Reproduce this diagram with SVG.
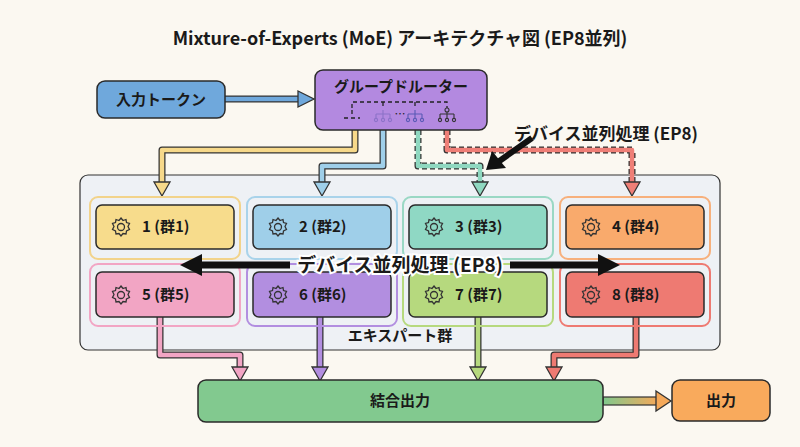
<svg xmlns="http://www.w3.org/2000/svg" width="800" height="447" viewBox="0 0 800 447">
<defs>
<linearGradient id="og" x1="0" x2="1"><stop offset="0" stop-color="#7fc98d"/><stop offset="1" stop-color="#f5a95a"/></linearGradient>
</defs>
<style>
text{font-family:"Noto Sans CJK JP","Noto Sans",sans-serif;fill:#1a1a1a}
.t{font-size:15px;font-weight:bold}
.box{stroke:#2a2a2a;stroke-width:1.5}
.o{fill:none;stroke:#333;stroke-width:7;stroke-linejoin:round}
.i{fill:none;stroke-width:4.5;stroke-linejoin:round}
.d{fill:none;stroke:#222;stroke-width:1.3;stroke-dasharray:4 3}
.gear{fill:none;stroke:#333;stroke-width:1.3}
</style>
<rect width="800" height="447" fill="#fbf8f1"/>
<text x="400" y="45" text-anchor="middle" style="font-size:18px;font-weight:bold">Mixture-of-Experts (MoE) アーキテクチャ図 (EP8並列)</text>

<g id="experts-container">
<rect x="80" y="175" width="640" height="175" rx="8" fill="#eef1f5" stroke="#333" stroke-width="1.2"/>
<text x="400" y="341" text-anchor="middle" class="t">エキスパート群</text>
</g>

<g id="connectors">
<path d="M225 99 H300" class="o"/><path d="M225 99 H300" class="i" stroke="#6fa8dc"/>
<polygon points="298,91 314,99 298,107" fill="#6fa8dc" stroke="#333" stroke-width="1.3"/>
<path d="M355 130 V150 H162 V183" class="o"/><path d="M355 130 V150 H162 V183" class="i" stroke="#f7d98a"/>
<polygon points="154,182 170,182 162,196" fill="#f7d98a" stroke="#333" stroke-width="1.3"/>
<path d="M383 130 V166 H322 V183" class="o"/><path d="M383 130 V166 H322 V183" class="i" stroke="#9fcfe9"/>
<polygon points="314,182 330,182 322,196" fill="#9fcfe9" stroke="#333" stroke-width="1.3"/>
<path d="M418 130 V166 H480 V183" class="o" stroke-dasharray="5 3"/><path d="M418 130 V166 H480 V183" class="i" stroke="#8fd8c0"/>
<polygon points="472,182 488,182 480,196" fill="#8fd8c0" stroke="#333" stroke-width="1.3"/>
<path d="M447 130 V150 H632 V183" class="o" stroke-dasharray="5 3"/><path d="M447 130 V150 H632 V183" class="i" stroke="#ef7f77"/>
<polygon points="624,182 640,182 632,196" fill="#ef7f77" stroke="#333" stroke-width="1.3"/>
<path d="M532 138 L498 162" stroke="#111" stroke-width="6"/>
<polygon points="486,170 492,151 506,168" fill="#111"/>
<path d="M160 317 V355 H240 V368" class="o"/><path d="M160 317 V355 H240 V368" class="i" stroke="#f2a5c4"/>
<polygon points="232,367 248,367 240,381" fill="#f2a5c4" stroke="#333" stroke-width="1.3"/>
<path d="M320 317 V368" class="o"/><path d="M320 317 V368" class="i" stroke="#b28ee0"/>
<polygon points="312,367 328,367 320,381" fill="#b28ee0" stroke="#333" stroke-width="1.3"/>
<path d="M478 317 V368" class="o"/><path d="M478 317 V368" class="i" stroke="#b6d97e"/>
<polygon points="470,367 486,367 478,381" fill="#b6d97e" stroke="#333" stroke-width="1.3"/>
<path d="M636 317 V355 H554 V368" class="o"/><path d="M636 317 V355 H554 V368" class="i" stroke="#ee7a72"/>
<polygon points="546,367 562,367 554,381" fill="#ee7a72" stroke="#333" stroke-width="1.3"/>
<rect x="603" y="397" width="55" height="8" fill="url(#og)" stroke="#333" stroke-width="1.2"/>
<polygon points="656,391 671,401 656,411" fill="#f5a95a" stroke="#333" stroke-width="1.3"/>
</g>

<g id="input"><rect x="97" y="81" width="128" height="37" rx="8" fill="#6fa8dc" class="box"/><text x="161" y="105" text-anchor="middle" class="t">入力トークン</text></g>

<g id="router">
<rect x="315" y="70" width="172" height="60" rx="8" fill="#b389e0" class="box"/>
<text x="401" y="92" text-anchor="middle" class="t">グループドルーター</text>
<path d="M352 108 V102 H447 V108 M383 102 V108 M415 102 V108" class="d"/>
<path d="M352 110 V115 M344 118 H360" class="d"/>
<text x="400" y="118" text-anchor="middle" style="font-size:11px">…</text>
<g fill="none" stroke-width="1.1">
<path d="M383 110 V114 M376 114 H390 M376 114 V118 M383 114 V118 M390 114 V118" stroke="#8c72c8"/>
<path d="M415 110 V114 M408 114 H422 M408 114 V118 M415 114 V118 M422 114 V118" stroke="#5a5ab5"/>
<path d="M447 112 V114 M440 114 H454 M440 114 V118 M447 114 V118 M454 114 V118" stroke="#333"/>
<circle cx="447" cy="110" r="2" stroke="#333"/>
<circle cx="376" cy="120" r="1.6" stroke="#8c72c8"/><circle cx="383" cy="120" r="1.6" stroke="#8c72c8"/><circle cx="390" cy="120" r="1.6" stroke="#8c72c8"/>
<circle cx="408" cy="120" r="1.6" stroke="#5a5ab5"/><circle cx="415" cy="120" r="1.6" stroke="#5a5ab5"/><circle cx="422" cy="120" r="1.6" stroke="#5a5ab5"/>
<circle cx="440" cy="120" r="1.6" stroke="#333"/><circle cx="447" cy="120" r="1.6" stroke="#333"/><circle cx="454" cy="120" r="1.6" stroke="#333"/>
</g>
</g>

<text x="514" y="140" class="t" style="font-size:17px">デバイス並列処理 (EP8)</text>

<defs>
<g id="gear"><circle r="3.5" class="gear"/><path d="M0 -9 L2 -6.5 L5 -7.5 L5.5 -4.5 L8.5 -3.5 L7 -0.5 L8.5 2.5 L5.5 4 L5 7 L2 6.5 L0 9 L-2 6.5 L-5 7 L-5.5 4 L-8.5 2.5 L-7 -0.5 L-8.5 -3.5 L-5.5 -4.5 L-5 -7.5 L-2 -6.5 Z" class="gear"/></g>
</defs>

<g id="e1"><rect x="90" y="197" width="150" height="62" rx="8" fill="none" stroke="#f2d38a" stroke-width="2"/><rect x="96" y="205" width="138" height="44" rx="6" fill="#f7dc8c" class="box"/><use href="#gear" x="121" y="227"/><text x="142" y="232" class="t">1 (群1)</text></g>
<g id="e2"><rect x="247" y="197" width="150" height="62" rx="8" fill="none" stroke="#a9d3ea" stroke-width="2"/><rect x="253" y="205" width="138" height="44" rx="6" fill="#9fcfe9" class="box"/><use href="#gear" x="278" y="227"/><text x="299" y="232" class="t">2 (群2)</text></g>
<g id="e3"><rect x="403" y="197" width="150" height="62" rx="8" fill="none" stroke="#9ad8c4" stroke-width="2"/><rect x="409" y="205" width="138" height="44" rx="6" fill="#8fd8c4" class="box"/><use href="#gear" x="434" y="227"/><text x="455" y="232" class="t">3 (群3)</text></g>
<g id="e4"><rect x="560" y="197" width="150" height="62" rx="8" fill="none" stroke="#f7b07c" stroke-width="2"/><rect x="566" y="205" width="138" height="44" rx="6" fill="#f9aa6c" class="box"/><use href="#gear" x="591" y="227"/><text x="612" y="232" class="t">4 (群4)</text></g>
<g id="e5"><rect x="90" y="264" width="150" height="62" rx="8" fill="none" stroke="#f2a5c4" stroke-width="2"/><rect x="96" y="272" width="138" height="45" rx="6" fill="#f2a5c4" class="box"/><use href="#gear" x="121" y="295"/><text x="142" y="300" class="t">5 (群5)</text></g>
<g id="e6"><rect x="247" y="264" width="150" height="62" rx="8" fill="none" stroke="#b28ee0" stroke-width="2"/><rect x="253" y="272" width="138" height="45" rx="6" fill="#b28ee0" class="box"/><use href="#gear" x="278" y="295"/><text x="299" y="300" class="t">6 (群6)</text></g>
<g id="e7"><rect x="403" y="264" width="150" height="62" rx="8" fill="none" stroke="#b6d97e" stroke-width="2"/><rect x="409" y="272" width="138" height="45" rx="6" fill="#b6d97e" class="box"/><use href="#gear" x="434" y="295"/><text x="455" y="300" class="t">7 (群7)</text></g>
<g id="e8"><rect x="560" y="264" width="150" height="62" rx="8" fill="none" stroke="#ee7a72" stroke-width="2"/><rect x="566" y="272" width="138" height="45" rx="6" fill="#ee7a72" class="box"/><use href="#gear" x="591" y="295"/><text x="612" y="300" class="t">8 (群8)</text></g>

<g id="ep-arrow">
<path d="M200 265 H290 M510 265 H600" stroke="#111" stroke-width="7"/>
<polygon points="180,265 202,254 202,276" fill="#111"/>
<polygon points="620,265 598,254 598,276" fill="#111"/>
<text x="400" y="272" text-anchor="middle" class="t" style="font-size:19px;stroke:#fff;stroke-width:4;paint-order:stroke">デバイス並列処理 (EP8)</text>
</g>

<g id="combined"><rect x="198" y="380" width="405" height="42" rx="8" fill="#82c98f" class="box"/><text x="400" y="406" text-anchor="middle" class="t">結合出力</text></g>
<g id="output"><rect x="672" y="380" width="98" height="41" rx="8" fill="#f9aa5c" class="box"/><text x="721" y="406" text-anchor="middle" class="t">出力</text></g>
</svg>
